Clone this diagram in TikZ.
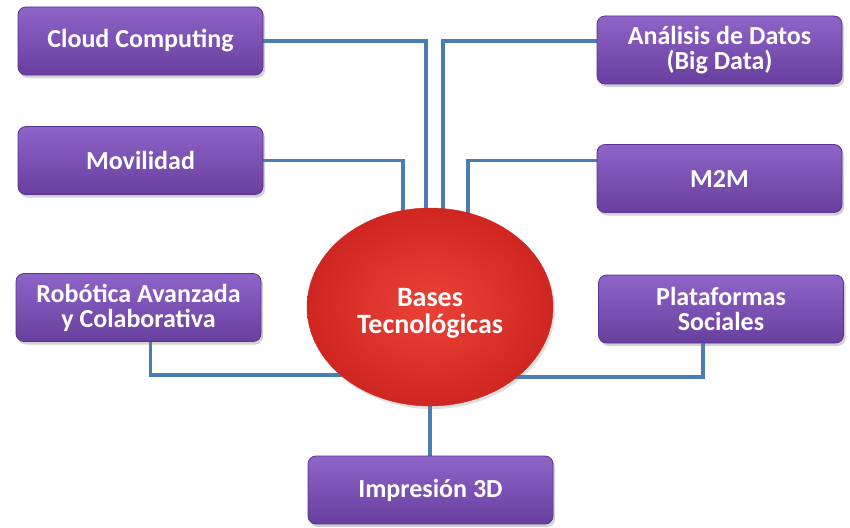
\documentclass[tikz,border=0pt]{standalone}
\usepackage{fontspec}
\setmainfont{Carlito}
\usetikzlibrary{shadows,calc,shapes.geometric}
\pgfdeclarelayer{back}
\pgfdeclarelayer{background}
\pgfsetlayers{back,background,main}
\definecolor{boxtop}{RGB}{142,100,200}
\definecolor{boxbot}{RGB}{104,62,158}
\definecolor{boxline}{RGB}{88,52,140}
\definecolor{conncol}{RGB}{74,125,180}
\definecolor{redin}{RGB}{234,66,54}
\definecolor{redout}{RGB}{208,38,34}
\tikzset{
  boxnode/.style={rectangle, rounded corners=8pt, minimum width=245pt, minimum height=68pt,
    top color=boxtop, bottom color=boxbot, draw=boxline, line width=0.8pt,
    drop shadow={opacity=0.35, shadow xshift=2pt, shadow yshift=-3pt},
    text=white, font=\bfseries\fontsize{26}{25}\selectfont, align=center, inner sep=2pt},
  hub/.style={ellipse, minimum width=246pt, minimum height=198pt, inner sep=0pt,
    shading=radial, inner color=redin, outer color=redout, draw=redout,
    drop shadow={opacity=0.25, shadow xshift=2pt, shadow yshift=-3pt},
    text=white, font=\bfseries\fontsize{28}{27}\selectfont, align=center},
  conn/.style={draw=conncol, line width=3.2pt}
}
\begin{document}
\begin{tikzpicture}[x=1pt,y=-1pt]
\begin{pgfonlayer}{back}
\fill[white] (0,0) rectangle (850,527);
\end{pgfonlayer}
\useasboundingbox (0,0) rectangle (850,527);
\node[boxnode] (cloud) at (140.5,41) {Cloud Computing};
\node[boxnode] (mov) at (140.5,160.5) {Movilidad};
\node[boxnode] (ana) at (719.5,50) {Análisis de Datos\\(Big Data)};
\node[boxnode] (m2m) at (719.5,178.5) {M2M};
\node[boxnode] (rob) at (138.5,307.5) {Robótica Avanzada\\y Colaborativa};
\node[boxnode] (plat) at (721,309) {Plataformas\\Sociales};
\node[boxnode] (imp) at (430.5,490) {Impresión 3D};
\node[hub] (e) at (430,307) {\rule{0pt}{30pt}Bases\\Tecnológicas};
\begin{pgfonlayer}{background}
\draw[conn] (cloud.east) -| ([xshift=-4pt]e.center);
\draw[conn] (mov.east) -| ([xshift=-27pt]e.center);
\draw[conn] (cloud.east -| ana.west) -| ([xshift=13pt]e.center);
\draw[conn] (mov.east -| m2m.west) -| ([xshift=38pt]e.center);
\draw[conn] ([xshift=12pt]rob.south) |- ([yshift=-68pt]e.center);
\draw[conn] ([xshift=-18pt]plat.south) |- ([yshift=-70pt]e.center);
\draw[conn] (imp.north -| e.center) -- (e.center);
\end{pgfonlayer}
\end{tikzpicture}
\end{document}
